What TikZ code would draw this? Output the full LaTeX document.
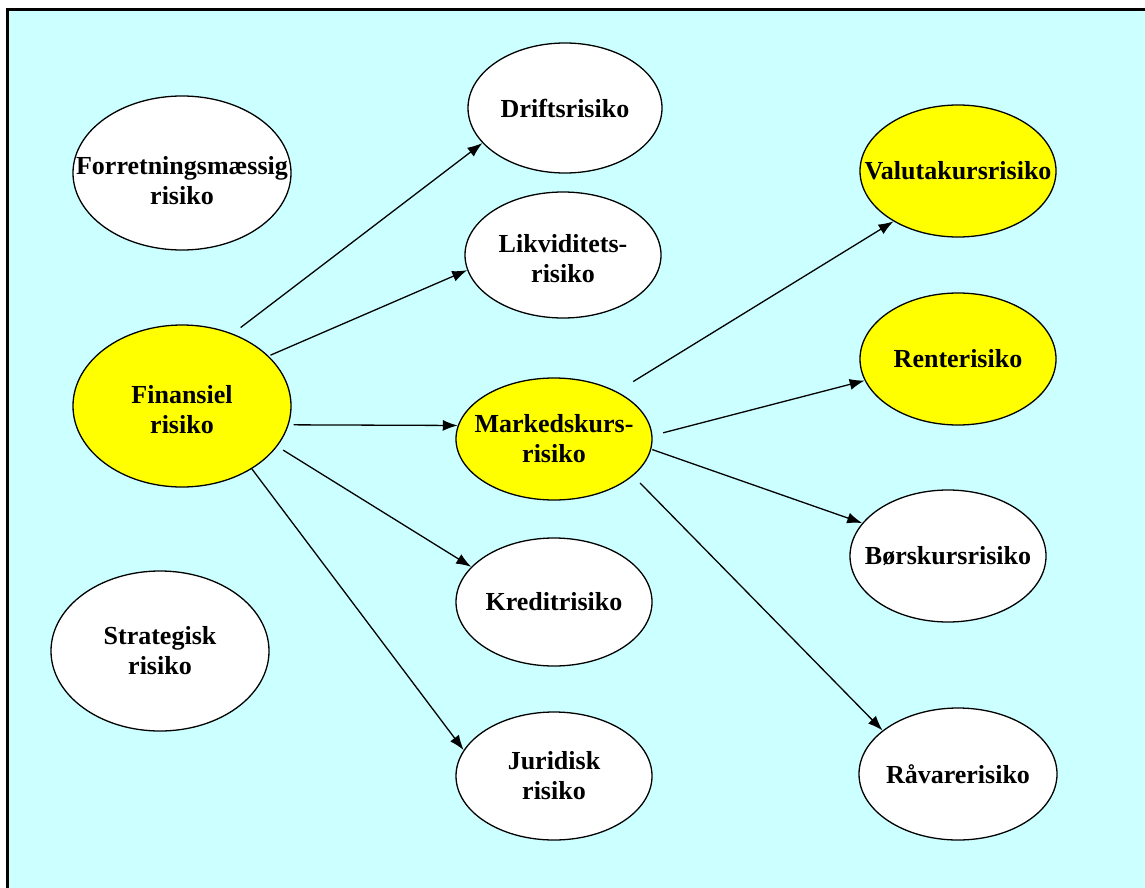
\documentclass[tikz,border=0pt]{standalone}
\usepackage{fontspec}
\setmainfont{Liberation Serif}
\usetikzlibrary{arrows.meta,shapes.geometric}
\definecolor{bgcyan}{HTML}{CCFFFF}
\definecolor{hiyel}{HTML}{FFFF00}
\begin{document}
\begin{tikzpicture}[x=1pt,y=-1pt,
  lbl/.style={align=center, inner sep=0pt, font=\fontsize{26}{30}\selectfont\bfseries},
  risk/.style={ellipse, draw=black, line width=1.3pt, fill=white, inner sep=0pt},
  hi/.style={risk, fill=hiyel},
  arr/.style={line width=1.3pt, -{Latex[length=15pt,width=11pt]}}]
\useasboundingbox (0,0) rectangle (1145,888);
\fill[white] (0,0) rectangle (1145,888);
\fill[bgcyan] (7.5,9.5) rectangle (1145,888);
\draw[line width=3pt] (7.5,888) -- (7.5,9.5) -- (1145,9.5);

\node[risk, minimum width=218pt, minimum height=154pt,
  label={[lbl, yshift=-8pt]center:Forretningsmæssig\\risiko}] (FO) at (182,173) {};
\node[risk, minimum width=194pt, minimum height=130pt,
  label={[lbl]center:Driftsrisiko}] (D) at (565,108) {};
\node[risk, minimum width=196pt, minimum height=126pt,
  label={[lbl, yshift=-4pt]center:Likviditets-\\risiko}] (L) at (563,255) {};
\node[hi, minimum width=218pt, minimum height=162pt,
  label={[lbl, yshift=-4pt]center:Finansiel\\risiko}] (F) at (182,406) {};
\node[hi, minimum width=196pt, minimum height=122pt,
  label={[lbl]center:Markedskurs-\\risiko}] (M) at (554,439) {};
\node[risk, minimum width=196pt, minimum height=128pt,
  label={[lbl]center:Kreditrisiko}] (K) at (554,602) {};
\node[risk, minimum width=196pt, minimum height=128pt,
  label={[lbl]center:Juridisk\\risiko}] (J) at (554,776) {};
\node[risk, minimum width=218pt, minimum height=160pt,
  label={[lbl]center:Strategisk\\risiko}] (S) at (160,651) {};
\node[hi, minimum width=196pt, minimum height=132pt,
  label={[lbl]center:Valutakursrisiko}] (V) at (958,171) {};
\node[hi, minimum width=196pt, minimum height=132pt,
  label={[lbl]center:Renterisiko}] (R) at (958,359) {};
\node[risk, minimum width=196pt, minimum height=132pt,
  label={[lbl]center:Børskursrisiko}] (B) at (948,556) {};
\node[risk, minimum width=198pt, minimum height=132pt,
  label={[lbl]center:Råvarerisiko}] (RA) at (958,774) {};

\draw[arr, shorten <=10pt] (F.55) -- (D.203);
\draw[arr, shorten <=2pt] (F.30) -- (L.189);
\draw[arr, shorten <=5pt] (F.-10) -- (M.172);
\draw[arr, shorten <=7pt] (F.-23) -- (K.157);
\draw[arr] (F.-42) -- (J.164);
\draw[arr, shorten <=19pt] (M.37) -- (V.218);
\draw[arr, shorten <=11pt] (M.2) -- (R.193);
\draw[arr, shorten <=1pt] (M.-6) -- (B.159);
\draw[arr, shorten <=10pt] (M.-25) -- (RA.150);
\end{tikzpicture}
\end{document}
